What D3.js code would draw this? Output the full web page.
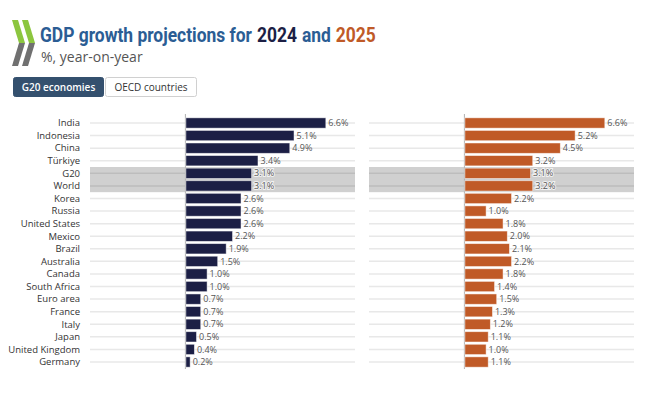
<!DOCTYPE html>
<html>
<head>
<meta charset="utf-8">
<script src="https://cdn.jsdelivr.net/npm/d3@7"></script>
<style>
  body { margin: 0; background: #fff; }
  text { font-family: "Open Sans", "Noto Sans", sans-serif; }
</style>
</head>
<body>
<div id="chart"></div>
<script>
const countries = ["India", "Indonesia", "China", "Türkiye", "G20", "World", "Korea", "Russia",
  "United States", "Mexico", "Brazil", "Australia", "Canada", "South Africa", "Euro area",
  "France", "Italy", "Japan", "United Kingdom", "Germany"];
const growth2024 = [6.6, 5.1, 4.9, 3.4, 3.1, 3.1, 2.6, 2.6, 2.6, 2.2, 1.9, 1.5, 1.0, 1.0, 0.7, 0.7, 0.7, 0.5, 0.4, 0.2];
const growth2025 = [6.6, 5.2, 4.5, 3.2, 3.1, 3.2, 2.2, 1.0, 1.8, 2.0, 2.1, 2.2, 1.8, 1.4, 1.5, 1.3, 1.2, 1.1, 1.0, 1.1];
const highlighted = ["G20", "World"];
const tabs = ["G20 economies", "OECD countries"];

const width = 670, height = 396;
const navy = "#1c1f45", orange = "#c05a27", blue = "#2b5d94";

const svg = d3.select("#chart").append("svg")
    .attr("width", width)
    .attr("height", height);

// logo (two chevrons)
const logo = svg.append("g");
[12, 22].forEach(x0 => {
    logo.append("path")
        .attr("d", `M${x0},20 L${x0 + 6},20 L${x0 + 13},43 L${x0 + 7},43 Z`)
        .attr("fill", "#8cc63f");
    logo.append("path")
        .attr("d", `M${x0 + 7},43 L${x0 + 13},43 L${x0 + 6},66 L${x0},66 Z`)
        .attr("fill", "#707070");
});

// title, drawn piece by piece and squeezed to look condensed
const titleParts = [
    { t: "GDP growth projections for", c: blue },
    { t: "2024", c: navy },
    { t: "and", c: blue },
    { t: "2025", c: orange }
];
const squeeze = 0.83;
const titleG = svg.append("g").attr("transform", `translate(40,42) scale(${squeeze},1)`);
let tx = 0;
titleParts.forEach(p => {
    const el = titleG.append("text")
        .attr("x", tx)
        .attr("fill", p.c)
        .style("font-family", "Roboto, sans-serif")
        .style("font-weight", "bold")
        .style("font-size", "21px")
        .text(p.t);
    tx += el.node().getComputedTextLength() + 6;
});

svg.append("text")
    .attr("x", 41)
    .attr("y", 62)
    .attr("fill", "#555")
    .style("font-size", "14px")
    .text("%, year-on-year");

// tabs
const tabX = [13, 105], tabW = [90, 91];
tabs.forEach((t, i) => {
    svg.append("rect")
        .attr("x", tabX[i] + 0.5).attr("y", 77.5)
        .attr("width", tabW[i]).attr("height", 19)
        .attr("rx", 2)
        .attr("fill", i === 0 ? "#34506e" : "#fff")
        .attr("stroke", i === 0 ? "#34506e" : "#d0d0d0");
    svg.append("text")
        .attr("x", tabX[i] + tabW[i] / 2 + 0.5)
        .attr("y", 91)
        .attr("text-anchor", "middle")
        .attr("fill", i === 0 ? "#fff" : "#333")
        .style("font-size", "10px")
        .style("font-weight", i === 0 ? 600 : 400)
        .text(t);
});

const y = d3.scaleBand()
    .domain(countries)
    .range([116.7, 368.3])
    .paddingInner(0.18)
    .paddingOuter(0.09);

const step = y.step();
const yc = c => y(c) + y.bandwidth() / 2;

// category labels
svg.append("g").selectAll("text")
    .data(countries)
    .join("text")
    .attr("x", 80)
    .attr("y", d => yc(d))
    .attr("dy", "0.35em")
    .attr("text-anchor", "end")
    .attr("fill", "#333")
    .style("font-size", "9.5px")
    .text(d => d);

function panel(x0, values, color) {
    const x = d3.scaleLinear().domain([-4.5, 8]).range([x0, x0 + 265]);
    const g = svg.append("g");

    // highlight band
    const hi = highlighted.map(c => y(c));
    g.append("rect")
        .attr("x", x(-4.5))
        .attr("y", d3.min(hi) - (step - y.bandwidth()) / 2)
        .attr("width", x(8) - x(-4.5))
        .attr("height", step * highlighted.length)
        .attr("fill", "#d0d0d0");

    // grid lines
    g.selectAll(".grid")
        .data(countries)
        .join("line")
        .attr("class", "grid")
        .attr("x1", x(-4.5)).attr("x2", x(8))
        .attr("y1", d => yc(d)).attr("y2", d => yc(d))
        .attr("stroke", d => highlighted.includes(d) ? "#bdbdbd" : "#e8e8e8")
        .attr("stroke-width", 1.5);

    // zero line
    g.append("line")
        .attr("x1", x(0)).attr("x2", x(0))
        .attr("y1", 114).attr("y2", 369)
        .attr("stroke", "#b0b0b0");

    const data = countries.map((c, i) => ({ c, v: values[i] }));

    g.selectAll(".bar")
        .data(data)
        .join("rect")
        .attr("class", "bar")
        .attr("x", d => x(Math.min(0, d.v)) + 0.5)
        .attr("y", d => y(d.c))
        .attr("width", d => Math.abs(x(d.v) - x(0)))
        .attr("height", y.bandwidth())
        .attr("fill", color)
        .attr("stroke", "#ffffff")
        .attr("stroke-opacity", 0.6)
        .attr("stroke-width", 0.8);

    g.selectAll(".val")
        .data(data)
        .join("text")
        .attr("class", "val")
        .attr("x", d => x(d.v) + 3)
        .attr("y", d => yc(d.c))
        .attr("dy", "0.35em")
        .attr("fill", "#555")
        .attr("stroke", d => highlighted.includes(d.c) ? "#f2f2f2" : "none")
        .attr("stroke-width", 2)
        .attr("paint-order", "stroke")
        .style("font-size", "9px")
        .text(d => d.v.toFixed(1) + "%");
}

panel(90, growth2024, navy);
panel(369, growth2025, orange);
</script>
</body>
</html>
